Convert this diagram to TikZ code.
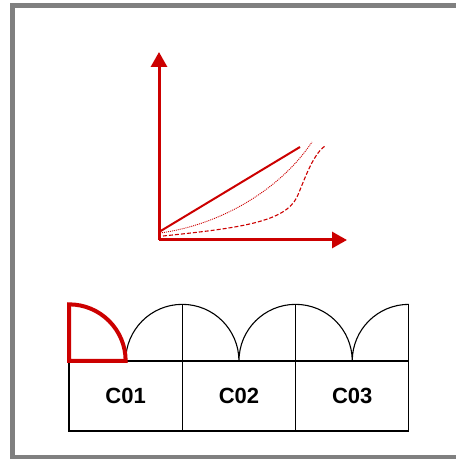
\documentclass[tikz,border=0pt]{standalone}
\usepackage{fontspec}
\setmainfont{Liberation Sans}
\usetikzlibrary{arrows.meta}
\definecolor{axred}{RGB}{204,0,0}
\definecolor{framegrey}{RGB}{128,128,128}
\tikzset{
  axis/.style={draw=axred, line width=3pt, -{Triangle[width=16pt,length=15pt]}},
  curve/.style={draw=axred},
  cellbox/.style={draw=black, line width=1.1pt, minimum width=113.3pt, minimum height=70pt, inner sep=0pt, outer sep=0pt, font=\fontsize{22}{26}\selectfont\bfseries},
  thin black/.style={draw=black, line width=1.1pt},
}
\begin{document}
\begin{tikzpicture}[x=1pt,y=1pt]
\useasboundingbox (0,0) rectangle (456,459);
% frame
\draw[framegrey, line width=4.5pt] (12.5,1.5) rectangle (470,453.5);
% axes
\coordinate (O) at (159,219);
\coordinate (ytip) at (159,407);
\coordinate (xtip) at (347,219);
\draw[axis] (O) -- (ytip);
\draw[axis] (O) -- (xtip);
% curves
\coordinate (s0) at (159,227);
\coordinate (s1) at (300,312);
\draw[curve, line width=2pt] (s0) -- (s1);
\coordinate (d0) at (160,226);
\coordinate (d1) at (312,317);
\draw[curve, line width=0.9pt, dash pattern=on 1pt off 1pt] (d0) .. controls (220,234) and (280,269) .. (d1);
\coordinate (e0) at (163,223);
\coordinate (em) at (297,262);
\coordinate (e1) at (325,313);
\draw[curve, line width=1.1pt, dash pattern=on 4pt off 2pt] (e0) .. controls (240,231) and (285,237) .. (em) .. controls (303,275) and (312,304) .. (e1);
% cells
\node[cellbox, anchor=south west] (c1) at (69,28) {C01};
\node[cellbox, anchor=west] (c2) at (c1.east) {C02};
\node[cellbox, anchor=west] (c3) at (c2.east) {C03};
% upper row: arcs and vertical lines
\coordinate (t1) at ([yshift=56.65pt]c1.north east);
\coordinate (t2) at ([yshift=56.65pt]c2.north east);
\coordinate (t3) at ([yshift=56.65pt]c3.north east);
\draw[thin black] (c1.north east) -- (t1);
\draw[thin black] (c2.north east) -- (t2);
\draw[thin black] (c3.north east) -- (t3);
\draw[thin black] (c1.north) arc[start angle=180, end angle=90, radius=56.65pt]
  arc[start angle=90, end angle=0, radius=56.65pt]
  arc[start angle=180, end angle=90, radius=56.65pt]
  arc[start angle=90, end angle=0, radius=56.65pt]
  arc[start angle=180, end angle=90, radius=56.65pt];
% red quarter
\coordinate (q0) at (c1.north west);
\draw[axred, line width=4pt, line join=miter] (q0) -- ++(0,56.65) arc[start angle=90, end angle=0, radius=56.65pt] -- cycle;
\end{tikzpicture}
\end{document}
